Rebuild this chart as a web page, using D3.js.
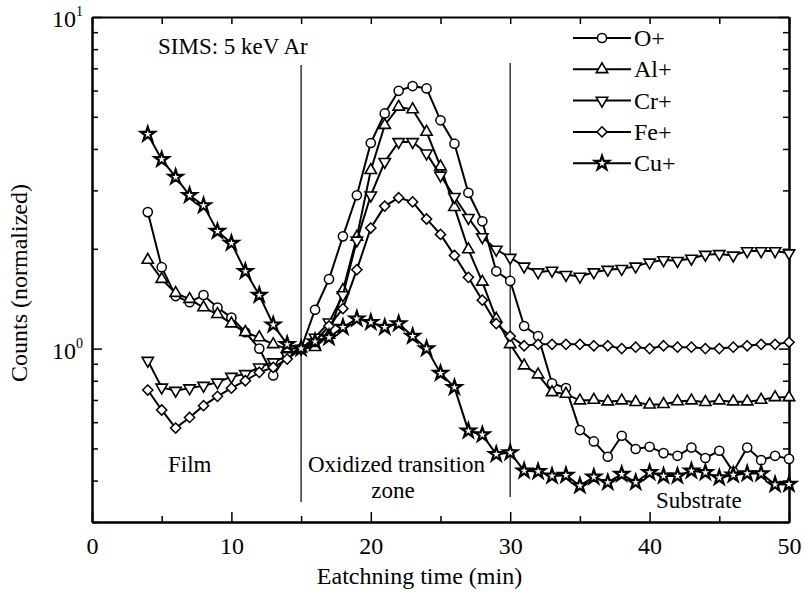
<!DOCTYPE html>
<html>
<head>
<meta charset="utf-8">
<script src="https://cdn.jsdelivr.net/npm/d3@7"></script>
<style>
  body { margin: 0; background: #fff; }
  svg text { font-family: "Liberation Serif", "Times New Roman", serif; fill: #000; }
</style>
</head>
<body>
<svg width="804" height="592"></svg>
<script>
var svg = d3.select("svg"),
  width = +svg.attr("width"),
  height = +svg.attr("height");

// etching time (min)
var times = [4,5,6,7,8,9,10,11,12,13,14,15,16,17,18,19,20,21,22,23,24,25,26,27,
  28,29,30,31,32,33,34,35,36,37,38,39,40,41,42,43,44,45,46,47,48,49,50];

// normalized counts, one value per minute above
var oPlus = [2.58,1.76,1.44,1.38,1.45,1.33,1.24,1.12,1.00,0.83,0.96,1.00,1.31,1.62,2.18,2.90,
  4.17,5.12,5.99,6.19,6.09,4.88,4.15,2.95,2.42,1.71,1.60,1.17,1.09,0.786,0.76,0.568,0.525,
  0.472,0.546,0.498,0.506,0.484,0.475,0.503,0.468,0.492,0.425,0.503,0.461,0.475,0.465];
var alPlus = [1.85,1.62,1.47,1.41,1.33,1.27,1.19,1.12,1.08,1.03,1.00,1.00,1.01,1.10,1.50,2.17,
  3.45,4.72,5.36,5.26,4.50,3.54,2.67,1.99,1.59,1.23,1.03,0.889,0.835,0.738,0.73,0.697,0.70,
  0.692,0.697,0.689,0.677,0.68,0.693,0.697,0.689,0.697,0.692,0.692,0.70,0.713,0.713];
var crPlus = [0.92,0.764,0.747,0.76,0.773,0.791,0.823,0.839,0.878,0.91,0.95,1.00,1.08,1.20,1.45,
  2.12,2.90,3.66,4.20,4.20,3.88,3.33,2.87,2.48,2.17,1.99,1.88,1.77,1.70,1.72,1.67,1.65,1.70,
  1.73,1.74,1.77,1.82,1.85,1.84,1.87,1.92,1.93,1.91,1.97,1.97,1.97,1.94];
var fePlus = [0.75,0.653,0.576,0.62,0.673,0.718,0.76,0.80,0.848,0.878,0.93,1.00,1.05,1.17,1.32,
  1.73,2.31,2.69,2.85,2.77,2.46,2.21,1.91,1.64,1.40,1.19,1.09,1.02,1.03,1.03,1.03,1.03,1.02,
  1.02,1.00,1.01,1.00,1.02,1.01,1.01,1.00,1.00,1.01,1.02,1.03,1.03,1.045];
var cuPlus = [4.43,3.72,3.29,2.90,2.70,2.26,2.08,1.71,1.45,1.18,1.03,1.00,1.05,1.08,1.16,1.23,
  1.20,1.16,1.19,1.09,1.00,0.843,0.764,0.565,0.55,0.48,0.486,0.428,0.426,0.413,0.415,0.386,
  0.41,0.395,0.418,0.395,0.423,0.413,0.413,0.428,0.423,0.408,0.416,0.42,0.42,0.389,0.39];

var seriesNames = ["O+", "Al+", "Cr+", "Fe+", "Cu+"];
var seriesValues = [oPlus, alPlus, crPlus, fePlus, cuPlus];

// axis ticks
var xMajor = [0, 10, 20, 30, 40, 50];
var xMinor = [5, 15, 25, 35, 45];
var yMajor = [1, 10];
var yMinor = [0.3, 0.4, 0.5, 0.6, 0.7, 0.8, 0.9, 2, 3, 4, 5, 6, 7, 8, 9];
var regionLines = [15, 30];

var x = d3.scaleLinear().domain([0, 50]).range([92, 789]);
var y = d3.scaleLog().domain([0.3, 10]).range([522, 17]);

// marker shapes
var triDown = {draw: function(ctx, size) {
  var s = Math.sqrt(size / (Math.sqrt(3) / 4)), h = s * Math.sqrt(3) / 2;
  ctx.moveTo(-s / 2, -h / 3); ctx.lineTo(s / 2, -h / 3); ctx.lineTo(0, 2 * h / 3); ctx.closePath();
}};
var triUp = {draw: function(ctx, size) {
  var s = Math.sqrt(size / (Math.sqrt(3) / 4)), h = s * Math.sqrt(3) / 2;
  ctx.moveTo(-s / 2, h / 3); ctx.lineTo(s / 2, h / 3); ctx.lineTo(0, -2 * h / 3); ctx.closePath();
}};
var diamond = {draw: function(ctx, size) {
  var r = Math.sqrt(size / 2);
  ctx.moveTo(0, -r); ctx.lineTo(r, 0); ctx.lineTo(0, r); ctx.lineTo(-r, 0); ctx.closePath();
}};
var shapes = [d3.symbolCircle, triUp, triDown, diamond, d3.symbolStar];
var sizes = [66, 56, 56, 52, 62];
var strokes = [1.5, 1.6, 1.6, 1.5, 2.2];

// axes
var gx = svg.append("g").attr("class", "axis");
gx.append("g").attr("transform", "translate(0,522)")
  .call(d3.axisBottom(x).tickValues(xMajor).tickSize(-10).tickSizeOuter(0).tickPadding(15).tickFormat(d3.format("d")));
gx.append("g").attr("transform", "translate(0,522)")
  .call(d3.axisBottom(x).tickValues(xMinor).tickSize(-6).tickSizeOuter(0).tickFormat(""));
gx.append("g").attr("transform", "translate(0,17)")
  .call(d3.axisTop(x).tickValues(xMajor.concat(xMinor)).tickSize(-7).tickSizeOuter(0).tickFormat(""));
gx.append("g").attr("transform", "translate(92,0)")
  .call(d3.axisLeft(y).tickValues(yMajor).tickSize(-10).tickSizeOuter(0).tickFormat(""));
gx.append("g").attr("transform", "translate(92,0)")
  .call(d3.axisLeft(y).tickValues(yMinor).tickSize(-6).tickSizeOuter(0).tickFormat(""));
gx.append("g").attr("transform", "translate(789,0)")
  .call(d3.axisRight(y).tickValues(yMajor).tickSize(-10).tickSizeOuter(0).tickFormat(""));
gx.append("g").attr("transform", "translate(789,0)")
  .call(d3.axisRight(y).tickValues(yMinor).tickSize(-6).tickSizeOuter(0).tickFormat(""));
gx.selectAll(".domain").attr("stroke", "#000").attr("stroke-width", 2);
gx.selectAll(".tick line").attr("stroke", "#000").attr("stroke-width", 1.5);
gx.selectAll(".tick text").attr("font-family", "Liberation Serif").attr("font-size", 24);

// log labels 10^0, 10^1
var yl = svg.append("g").selectAll("text").data(yMajor).enter().append("text")
  .attr("x", 83).attr("y", function(d) { return y(d) + 10; })
  .attr("text-anchor", "end").attr("font-size", 24);
yl.append("tspan").text("10");
yl.append("tspan").attr("dy", -11).attr("font-size", 14)
  .text(function(d) { return Math.round(Math.log10(d)); });

// region separators
svg.append("line").attr("x1", x(regionLines[0])).attr("x2", x(regionLines[0]))
  .attr("y1", 65).attr("y2", 502).attr("stroke", "#000").attr("stroke-width", 1.2);
svg.append("line").attr("x1", x(regionLines[1])).attr("x2", x(regionLines[1]))
  .attr("y1", 63).attr("y2", 497).attr("stroke", "#444").attr("stroke-width", 1.6);

// series
var line = d3.line()
  .x(function(d) { return x(d[0]); })
  .y(function(d) { return y(d[1]); });

seriesValues.forEach(function(vals, i) {
  var pts = times.map(function(t, j) { return [t, vals[j]]; });
  var g = svg.append("g").attr("class", "series");
  g.append("path").datum(pts).attr("d", line)
    .attr("fill", "none").attr("stroke", "#000").attr("stroke-width", 2);
  g.selectAll("path.m").data(pts).enter().append("path").attr("class", "m")
    .attr("transform", function(d) { return "translate(" + x(d[0]) + "," + y(d[1]) + ")"; })
    .attr("d", d3.symbol().type(shapes[i]).size(sizes[i]))
    .attr("fill", "#fff").attr("stroke", "#000").attr("stroke-width", strokes[i]);
});

// legend
var legend = svg.append("g").selectAll("g").data(seriesNames).enter().append("g")
  .attr("transform", function(d, i) { return "translate(0," + (38 + i * 31.3) + ")"; });
legend.append("line").attr("x1", 573).attr("x2", 631).attr("y1", 0).attr("y2", 0)
  .attr("stroke", "#000").attr("stroke-width", 2);
legend.append("path").attr("transform", "translate(602,0)")
  .attr("d", function(d, i) { return d3.symbol().type(shapes[i]).size(sizes[i])(); })
  .attr("fill", "#fff").attr("stroke", "#000")
  .attr("stroke-width", function(d, i) { return strokes[i]; });
legend.append("text").attr("x", 634).attr("y", 8).attr("font-size", 24).text(function(d) { return d; });

// annotations
svg.append("text").attr("x", 158).attr("y", 54).attr("font-size", 23).text("SIMS: 5 keV Ar");
svg.append("text").attr("x", 168).attr("y", 472).attr("font-size", 23).text("Film");
svg.append("text").attr("x", 308).attr("y", 472).attr("font-size", 23).text("Oxidized transition");
svg.append("text").attr("x", 393).attr("y", 498).attr("font-size", 23).attr("text-anchor", "middle").text("zone");
svg.append("text").attr("x", 656).attr("y", 508).attr("font-size", 23).text("Substrate");

// axis titles
svg.append("text").attr("x", 419.5).attr("y", 584).attr("text-anchor", "middle")
  .attr("font-size", 24).text("Eatchning time (min)");
svg.append("text").attr("transform", "translate(27,283) rotate(-90)").attr("text-anchor", "middle")
  .attr("font-size", 24).text("Counts (normalized)");
</script>
</body>
</html>
